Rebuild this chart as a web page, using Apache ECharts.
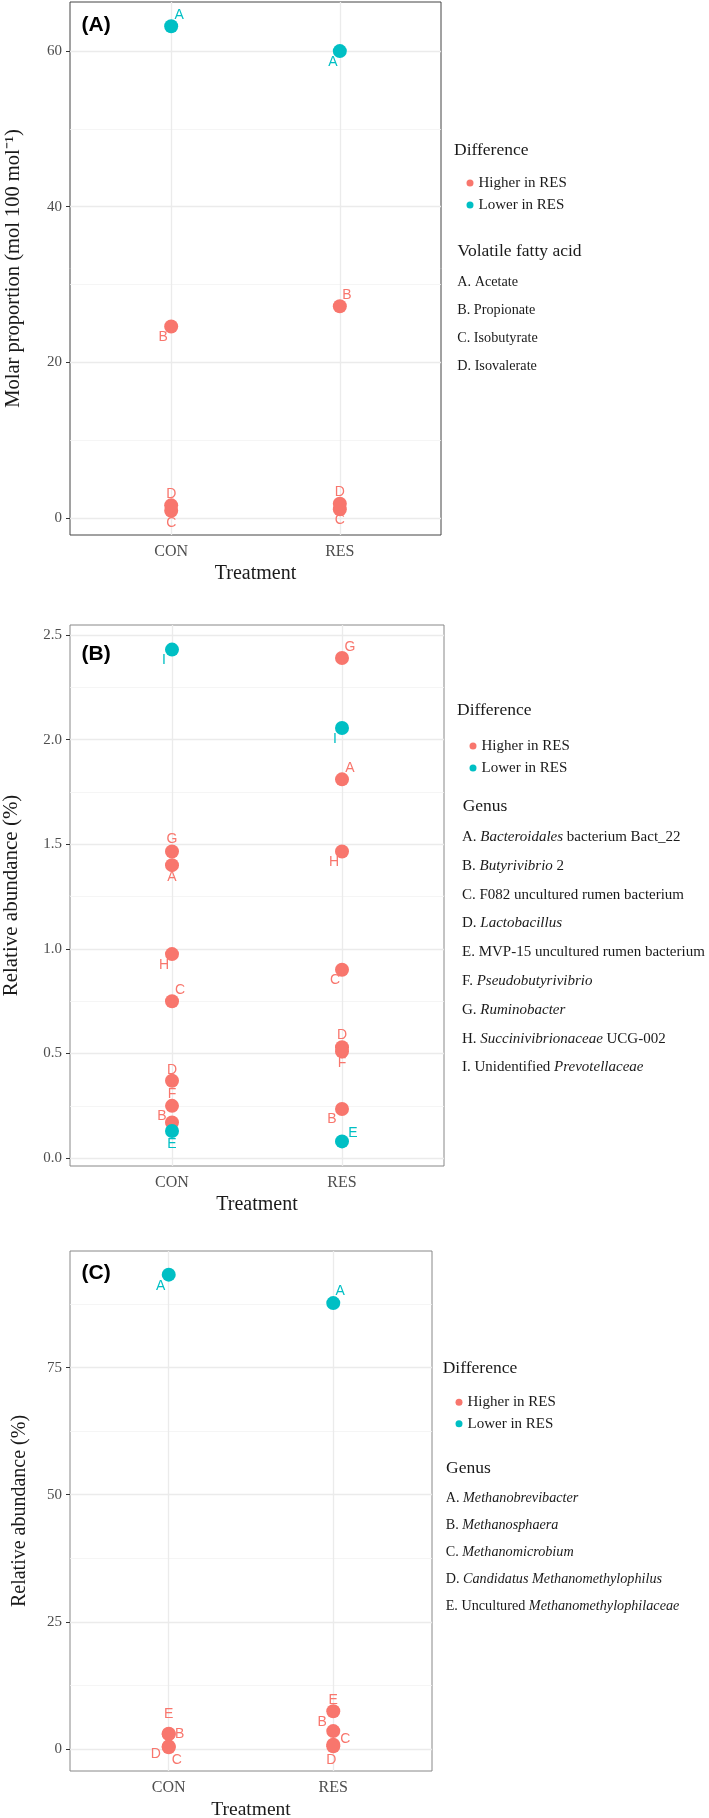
<!DOCTYPE html>
<html><head><meta charset="utf-8">
<script src="https://cdn.jsdelivr.net/npm/echarts@6/dist/echarts.min.js"></script>
<style>html,body{margin:0;padding:0;background:#fff}#c{width:709px;height:1818px}</style>
</head><body><div id="c"></div>
<script>
// ---------------- DATA ----------------
const treatments = ['CON', 'RES'];
const groups = ['Higher in RES', 'Lower in RES'];

// (A) Volatile fatty acids
const vfaLetters = ['A', 'B', 'C', 'D'];
const vfaNames = ['Acetate', 'Propionate', 'Isobutyrate', 'Isovalerate'];
const vfaCON = [63.2, 24.6, 0.9, 1.6];
const vfaRES = [60.0, 27.2, 1.1, 1.8];
const vfaGroup = ['Lower in RES', 'Higher in RES', 'Higher in RES', 'Higher in RES'];
const vfaTicks = [0, 20, 40, 60];

// (B) Bacterial genera
const genusLetters = ['A', 'B', 'C', 'D', 'E', 'F', 'G', 'H', 'I'];
const genusNames = ['*Bacteroidales* bacterium Bact_22', '*Butyrivibrio* 2', 'F082 uncultured rumen bacterium',
  '*Lactobacillus*', 'MVP-15 uncultured rumen bacterium', '*Pseudobutyrivibrio*', '*Ruminobacter*',
  '*Succinivibrionaceae* UCG-002', 'Unidentified *Prevotellaceae*'];
const genusCON = [1.40, 0.17, 0.75, 0.37, 0.13, 0.25, 1.465, 0.975, 2.43];
const genusRES = [1.81, 0.235, 0.90, 0.53, 0.08, 0.51, 2.39, 1.465, 2.055];
const genusGroup = ['Higher in RES', 'Higher in RES', 'Higher in RES', 'Higher in RES', 'Lower in RES',
  'Higher in RES', 'Higher in RES', 'Higher in RES', 'Lower in RES'];
const genusTicks = [0.0, 0.5, 1.0, 1.5, 2.0, 2.5];

// (C) Archaeal genera
const archLetters = ['A', 'B', 'C', 'D', 'E'];
const archNames = ['*Methanobrevibacter*', '*Methanosphaera*', '*Methanomicrobium*',
  '*Candidatus Methanomethylophilus*', 'Uncultured *Methanomethylophilaceae*'];
const archCON = [93.3, 2.9, 0.3, 0.5, 3.0];
const archRES = [87.7, 3.5, 0.8, 0.5, 7.4];
const archGroup = ['Lower in RES', 'Higher in RES', 'Higher in RES', 'Higher in RES', 'Higher in RES'];
const archTicks = [0, 25, 50, 75];

// ---------------- STYLE (label nudges, layout) ----------------
const vfaNudgeCON = [[8, -11], [-8, 11], [0, 12], [0, -11]];
const vfaNudgeRES = [[-7, 11], [7, -11], [0, 11], [0, -12]];
const genusNudgeCON = [[0, 12], [-10, -6], [8, -11], [0, -11], [0, 13], [0, -12], [0, -12], [-8, 11], [-8, 11]];
const genusNudgeRES = [[8, -11], [-10, 10], [-7, 10], [0, -12], [11, -8], [0, 12], [8, -11], [-8, 11], [-7, 11]];
const archNudgeCON = [[-8, 12], [11, 0], [8, 13], [-13, 8], [0, -19]];
const archNudgeRES = [[7, -12], [-11, -9], [12, -6], [-2, 14], [0, -11]];

const SERIF = '"Liberation Serif", "Times New Roman", serif';
const SANS = '"Liberation Sans", Arial, sans-serif';
const COL = { 'Higher in RES': '#F8766D', 'Lower in RES': '#00BFC4' };

const panels = [
  { letters: vfaLetters, names: vfaNames, con: vfaCON, res: vfaRES, group: vfaGroup, ticks: vfaTicks,
    nCON: vfaNudgeCON, nRES: vfaNudgeRES, grid: { left: 70, top: 2, width: 371, height: 533 }, border: '#444',
    yName: 'Molar proportion (mol 100 mol\u207B\u00B9)', yGap: 46, yFont: 20.5, xFont: 20, tag: '(A)', tagY: 25,
    listTitle: 'Volatile fatty acid', listFont: 14.2,
    leg: { dotX: 465, y1: 178, step: 22, titleX: 454, titleY: 150, listTitleX: 457.5, listTitleY: 251.7, listX: 457.3, listY: 282.7, listStep: 27.7 } },
  { letters: genusLetters, names: genusNames, con: genusCON, res: genusRES, group: genusGroup, ticks: genusTicks,
    nCON: genusNudgeCON, nRES: genusNudgeRES, grid: { left: 70, top: 625, width: 374, height: 541 }, border: '#888',
    yName: 'Relative abundance (%)', yGap: 48, yFont: 21, xFont: 20, tag: '(B)', tagY: 654,
    listTitle: 'Genus', listFont: 15,
    leg: { dotX: 468, y1: 741, step: 22, titleX: 457, titleY: 710, listTitleX: 462.7, listTitleY: 806, listX: 462, listY: 837, listStep: 28.8 } },
  { letters: archLetters, names: archNames, con: archCON, res: archRES, group: archGroup, ticks: archTicks,
    nCON: archNudgeCON, nRES: archNudgeRES, grid: { left: 70, top: 1251, width: 362, height: 520 }, border: '#888',
    yName: 'Relative abundance (%)', yGap: 40, yFont: 20, xFont: 19.5, tag: '(C)', tagY: 1273,
    listTitle: 'Genus', listFont: 14.2,
    leg: { dotX: 454, y1: 1397.3, step: 21.4, titleX: 442.7, titleY: 1368, listTitleX: 446, listTitleY: 1468, listX: 445.7, listY: 1498.3, listStep: 27.1 } }
];

const grids = [], xAxes = [], yAxes = [], series = [], legends = [], graphics = [];

function richLabel(letter, name, fs) {
  const parts = name.split('*');
  let txt = '{n|' + letter + '. }';
  parts.forEach((p, k) => { if (p.length) txt += '{' + (k % 2 ? 'i' : 'n') + '|' + p + '}'; });
  return {
    text: txt,
    rich: {
      n: { fontFamily: SERIF, fontSize: fs, fill: '#1a1a1a' },
      i: { fontFamily: SERIF, fontSize: fs, fontStyle: 'italic', fill: '#1a1a1a' }
    }
  };
}

panels.forEach((p, i) => {
  const all = p.con.concat(p.res);
  const lo = Math.min(...all), hi = Math.max(...all), span = hi - lo;
  const yMin = lo - 0.05 * span, yMax = hi + 0.05 * span;
  const step = p.ticks[1] - p.ticks[0];
  const minor = [];
  for (let t = p.ticks[0] - step / 2; t < yMax; t += step) if (t > yMin) minor.push(t);

  grids.push(Object.assign({ show: true, borderColor: p.border, borderWidth: 1, backgroundColor: '#fff',
    containLabel: false, outerBoundsMode: 'none' }, p.grid));

  xAxes.push({
    gridIndex: i, type: 'value', min: 0.4, max: 2.6,
    axisLine: { show: false }, splitLine: { show: false },
    axisTick: { show: true, customValues: [1, 2], length: 4, lineStyle: { color: '#333' } },
    axisLabel: { customValues: [1, 2], formatter: v => treatments[Math.round(v) - 1] || '', color: '#4d4d4d',
      fontFamily: SERIF, fontSize: 16, margin: 9 },
    name: 'Treatment', nameLocation: 'middle', nameGap: 29,
    nameTextStyle: { fontFamily: SERIF, fontSize: p.xFont, color: '#1a1a1a' }
  });

  yAxes.push({
    gridIndex: i, type: 'value', min: yMin, max: yMax, minInterval: step, maxInterval: step,
    axisLine: { show: false },
    axisTick: { show: true, customValues: p.ticks, length: 4, lineStyle: { color: '#333' } },
    axisLabel: { customValues: p.ticks, color: '#4d4d4d', fontFamily: SERIF, fontSize: 15, margin: 8,
      formatter: v => (step < 1 ? v.toFixed(1) : String(Math.round(v))) },
    splitLine: { show: true, lineStyle: { color: '#ebebeb', width: 1.3 } },
    name: p.yName, nameLocation: 'middle', nameGap: p.yGap,
    nameTextStyle: { fontFamily: SERIF, fontSize: p.yFont, color: '#1a1a1a' }
  });

  groups.forEach((g, gi) => {
    const data = [];
    p.letters.forEach((L, j) => {
      if (p.group[j] !== g) return;
      data.push({ name: L, value: [1, p.con[j]], label: { offset: p.nCON[j] } });
      data.push({ name: L, value: [2, p.res[j]], label: { offset: p.nRES[j] } });
    });
    const s = {
      type: 'scatter', name: g, xAxisIndex: i, yAxisIndex: i, symbol: 'circle', symbolSize: 14, z: 3 + gi,
      itemStyle: { color: COL[g], opacity: 1 },
      label: { show: true, position: 'inside', formatter: '{b}', color: COL[g], fontFamily: SANS, fontSize: 14 },
      emphasis: { disabled: true },
      data
    };
    if (gi === 0) {
      s.markLine = {
        silent: true, symbol: ['none', 'none'], animation: false, z: 1, label: { show: false },
        lineStyle: { color: '#f2f2f2', width: 0.8, type: 'solid' },
        emphasis: { disabled: true },
        data: minor.map(v => ({ yAxis: v })).concat([1, 2].map(v => ({ xAxis: v, lineStyle: { color: '#ebebeb', width: 1.3, type: 'solid' } })))
      };
    }
    series.push(s);
  });

  const lg = p.leg;
  legends.push({
    orient: 'vertical', left: lg.dotX - 3.5, top: lg.y1 - 8, data: groups, icon: 'circle',
    itemWidth: 7, itemHeight: 7, itemGap: lg.step - 16, selectedMode: false,
    textStyle: { fontFamily: SERIF, fontSize: 15, color: '#1a1a1a', lineHeight: 16 }
  });

  graphics.push({ type: 'text', x: p.grid.left + 11.5, y: p.tagY,
    style: { text: p.tag, fontFamily: SANS, fontWeight: 'bold', fontSize: 21, fill: '#000', verticalAlign: 'middle' } });
  graphics.push({ type: 'text', x: lg.titleX, y: lg.titleY,
    style: { text: 'Difference', fontFamily: SERIF, fontSize: 17.5, fill: '#1a1a1a', verticalAlign: 'middle' } });
  graphics.push({ type: 'text', x: lg.listTitleX, y: lg.listTitleY,
    style: { text: p.listTitle, fontFamily: SERIF, fontSize: 17.5, fill: '#1a1a1a', verticalAlign: 'middle' } });
  p.letters.forEach((L, j) => {
    const r = richLabel(L, p.names[j], p.listFont);
    graphics.push({ type: 'text', x: lg.listX, y: lg.listY + j * lg.listStep,
      style: Object.assign({ fontFamily: SERIF, fontSize: p.listFont, fill: '#1a1a1a', verticalAlign: 'middle' }, r) });
  });
});

const chart = echarts.init(document.getElementById('c'), null, { renderer: 'canvas' });
chart.setOption({
  animation: false,
  backgroundColor: '#fff',
  grid: grids, xAxis: xAxes, yAxis: yAxes, series, legend: legends, graphic: graphics
});
</script>
</body></html>
